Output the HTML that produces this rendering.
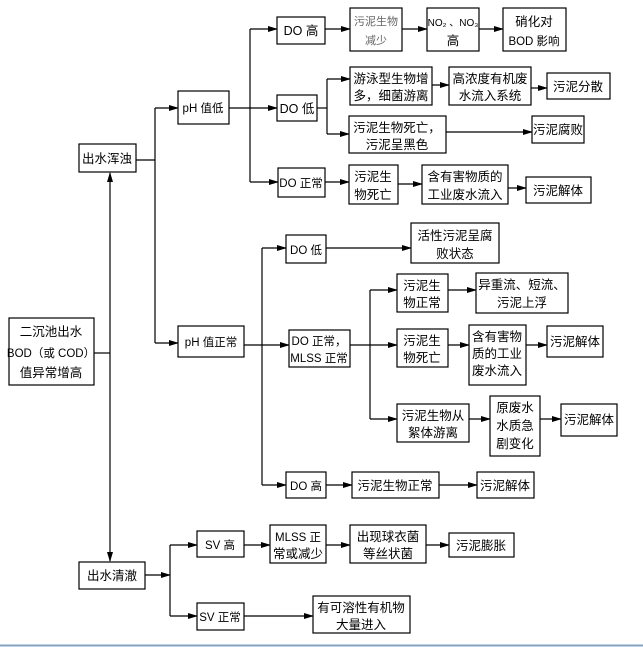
<!DOCTYPE html>
<html><head><meta charset="utf-8"><style>
html,body{margin:0;padding:0;background:#fff;}
svg{display:block;}
text{font-family:"Liberation Sans","Noto Sans CJK SC",sans-serif;font-size:12.5px;fill:#000;text-anchor:middle;}
text.s{font-size:11.5px;}
rect{fill:#fff;stroke:#000;stroke-width:1.2;}
line,polyline{stroke:#000;stroke-width:1.2;fill:none;}
</style></head><body>
<svg width="643" height="647" viewBox="0 0 643 647">
<defs><marker id="a" markerWidth="10" markerHeight="8" refX="9" refY="4" orient="auto" markerUnits="userSpaceOnUse"><path d="M0,1 L10,4 L0,7 Z" fill="#000"/></marker></defs>

<line x1="94" y1="353" x2="110" y2="353"/>
<line x1="110" y1="353" x2="110" y2="173" marker-end="url(#a)"/>
<line x1="110" y1="353" x2="110" y2="561" marker-end="url(#a)"/>

<polyline points="136,160 155,160"/>
<line x1="155" y1="108" x2="155" y2="343"/>
<line x1="155" y1="108" x2="178" y2="108" marker-end="url(#a)"/>
<line x1="155" y1="343" x2="178" y2="343" marker-end="url(#a)"/>

<line x1="229" y1="108" x2="250" y2="108"/>
<line x1="250" y1="29" x2="250" y2="182"/>
<line x1="250" y1="29" x2="277" y2="29" marker-end="url(#a)"/>
<line x1="250" y1="108" x2="277" y2="108" marker-end="url(#a)"/>
<line x1="250" y1="182" x2="278" y2="182" marker-end="url(#a)"/>
<line x1="325" y1="29" x2="350" y2="29" marker-end="url(#a)"/>
<line x1="402" y1="29" x2="427" y2="29" marker-end="url(#a)"/>
<line x1="479" y1="29" x2="503" y2="29" marker-end="url(#a)"/>
<line x1="317" y1="108" x2="327" y2="108"/>
<line x1="327" y1="79" x2="327" y2="134"/>
<line x1="327" y1="79" x2="350" y2="79" marker-end="url(#a)"/>
<line x1="327" y1="134" x2="349" y2="134" marker-end="url(#a)"/>
<line x1="432" y1="85" x2="449" y2="85" marker-end="url(#a)"/>
<line x1="531" y1="88" x2="547" y2="88" marker-end="url(#a)"/>
<line x1="446" y1="132" x2="532" y2="132" marker-end="url(#a)"/>
<line x1="325" y1="182" x2="349" y2="182" marker-end="url(#a)"/>
<line x1="398" y1="184" x2="422" y2="184" marker-end="url(#a)"/>
<line x1="508" y1="188" x2="526" y2="188" marker-end="url(#a)"/>

<line x1="244" y1="345" x2="262" y2="345"/>
<line x1="262" y1="248" x2="262" y2="485"/>
<line x1="262" y1="248" x2="286" y2="248" marker-end="url(#a)"/>
<line x1="262" y1="345" x2="289" y2="345" marker-end="url(#a)"/>
<line x1="262" y1="485" x2="286" y2="485" marker-end="url(#a)"/>
<line x1="326" y1="248" x2="411" y2="248" marker-end="url(#a)"/>
<line x1="350" y1="345" x2="370" y2="345"/>
<line x1="370" y1="290" x2="370" y2="419"/>
<line x1="370" y1="290" x2="397" y2="290" marker-end="url(#a)"/>
<line x1="370" y1="345" x2="397" y2="345" marker-end="url(#a)"/>
<line x1="370" y1="419" x2="397" y2="419" marker-end="url(#a)"/>
<line x1="448" y1="290" x2="476" y2="290" marker-end="url(#a)"/>
<line x1="448" y1="345" x2="469" y2="345" marker-end="url(#a)"/>
<line x1="526" y1="345" x2="547" y2="345" marker-end="url(#a)"/>
<line x1="469" y1="419" x2="490" y2="419" marker-end="url(#a)"/>
<line x1="540" y1="419" x2="561" y2="419" marker-end="url(#a)"/>
<line x1="326" y1="485" x2="352" y2="485" marker-end="url(#a)"/>
<line x1="439" y1="485" x2="477" y2="485" marker-end="url(#a)"/>

<line x1="145" y1="575" x2="170" y2="575" marker-end="url(#a)"/>
<line x1="170" y1="545" x2="170" y2="616"/>
<line x1="170" y1="545" x2="197" y2="545" marker-end="url(#a)"/>
<line x1="170" y1="616" x2="197" y2="616" marker-end="url(#a)"/>
<line x1="244" y1="545" x2="270" y2="545" marker-end="url(#a)"/>
<line x1="326" y1="545" x2="350" y2="545" marker-end="url(#a)"/>
<line x1="426" y1="545" x2="449" y2="545" marker-end="url(#a)"/>
<line x1="244" y1="616" x2="313" y2="616" marker-end="url(#a)"/>

<rect x="9" y="318" width="85" height="67"/>
<text x="51" y="336">二沉池出水</text><text x="51" y="357" class="s">BOD（或 COD）</text><text x="51" y="377">值异常增高</text>
<rect x="79" y="144" width="57" height="28"/><text x="107" y="163">出水浑浊</text>
<rect x="79" y="562" width="66" height="27"/><text x="112" y="580">出水清澈</text>

<rect x="178" y="91" width="51" height="33"/><text x="203" y="112" class="s">pH 值低</text>
<rect x="178" y="326" width="66" height="31"/><text x="211" y="346" class="s">pH 值正常</text>

<rect x="277" y="17" width="48" height="27"/><text x="301" y="35">DO 高</text>
<rect x="350" y="8" width="52" height="43"/><text x="376" y="25" style="font-size:11px;fill:#666">污泥生物</text><text x="376" y="44" style="font-size:11px;fill:#666">减少</text>
<rect x="427" y="8" width="52" height="43"/><text x="453" y="26" style="font-size:10px">NO₂ 、NO₃</text><text x="453" y="45">高</text>
<rect x="503" y="8" width="63" height="43"/><text x="534" y="26">硝化对</text><text x="534" y="45" class="s">BOD 影响</text>

<rect x="277" y="95" width="40" height="26"/><text x="297" y="113">DO 低</text>
<rect x="350" y="67" width="82" height="38"/><text x="391" y="83">游泳型生物增</text><text x="391" y="100">多，细菌游离</text>
<rect x="449" y="67" width="82" height="38"/><text x="490" y="83">高浓度有机废</text><text x="490" y="100">水流入系统</text>
<rect x="547" y="73" width="63" height="26"/><text x="578" y="91">污泥分散</text>
<rect x="349" y="116" width="97" height="37"/><text x="397" y="132">污泥生物死亡，</text><text x="397" y="149">污泥呈黑色</text>
<rect x="532" y="116" width="52" height="27"/><text x="558" y="134">污泥腐败</text>

<rect x="278" y="168" width="47" height="29"/><text x="301" y="187" class="s">DO 正常</text>
<rect x="349" y="165" width="49" height="39"/><text x="373" y="181">污泥生</text><text x="373" y="199">物死亡</text>
<rect x="422" y="165" width="86" height="39"/><text x="465" y="181">含有害物质的</text><text x="465" y="199">工业废水流入</text>
<rect x="526" y="177" width="65" height="26"/><text x="558" y="195">污泥解体</text>

<rect x="286" y="235" width="40" height="28"/><text x="306" y="254" class="s">DO 低</text>
<rect x="411" y="223" width="88" height="40"/><text x="455" y="240">活性污泥呈腐</text><text x="455" y="258">败状态</text>
<rect x="289" y="330" width="61" height="37"/><text x="319" y="345" class="s">DO 正常，</text><text x="319" y="362" class="s">MLSS 正常</text>
<rect x="397" y="274" width="51" height="38"/><text x="422" y="290">污泥生</text><text x="422" y="307">物正常</text>
<rect x="476" y="273" width="92" height="40"/><text x="522" y="289">异重流、短流、</text><text x="522" y="307">污泥上浮</text>
<rect x="397" y="329" width="51" height="38"/><text x="422" y="345">污泥生</text><text x="422" y="362">物死亡</text>
<rect x="469" y="325" width="57" height="60"/><text x="497" y="341">含有害物</text><text x="497" y="358">质的工业</text><text x="497" y="375">废水流入</text>
<rect x="547" y="326" width="56" height="31"/><text x="575" y="346">污泥解体</text>
<rect x="397" y="404" width="72" height="38"/><text x="433" y="420">污泥生物从</text><text x="433" y="437">絮体游离</text>
<rect x="490" y="396" width="50" height="60"/><text x="515" y="412">原废水</text><text x="515" y="430">水质急</text><text x="515" y="448">剧变化</text>
<rect x="561" y="404" width="56" height="32"/><text x="589" y="424">污泥解体</text>
<rect x="286" y="472" width="40" height="26"/><text x="306" y="490" class="s">DO 高</text>
<rect x="352" y="472" width="87" height="26"/><text x="395" y="490">污泥生物正常</text>
<rect x="477" y="472" width="57" height="26"/><text x="505" y="490">污泥解体</text>

<rect x="197" y="531" width="47" height="26"/><text x="220" y="549" class="s">SV 高</text>
<rect x="270" y="525" width="56" height="38"/><text x="298" y="541" class="s">MLSS 正</text><text x="298" y="558">常或减少</text>
<rect x="350" y="525" width="76" height="38"/><text x="388" y="541">出现球衣菌</text><text x="388" y="558">等丝状菌</text>
<rect x="449" y="533" width="65" height="24"/><text x="481" y="550">污泥膨胀</text>
<rect x="197" y="603" width="47" height="27"/><text x="220" y="621" class="s">SV 正常</text>
<rect x="313" y="596" width="97" height="37"/><text x="361" y="612">有可溶性有机物</text><text x="361" y="629">大量进入</text>

<line x1="0" y1="645.5" x2="643" y2="645.5" style="stroke:#7aa6d6;stroke-width:2"/>
</svg>
</body></html>
